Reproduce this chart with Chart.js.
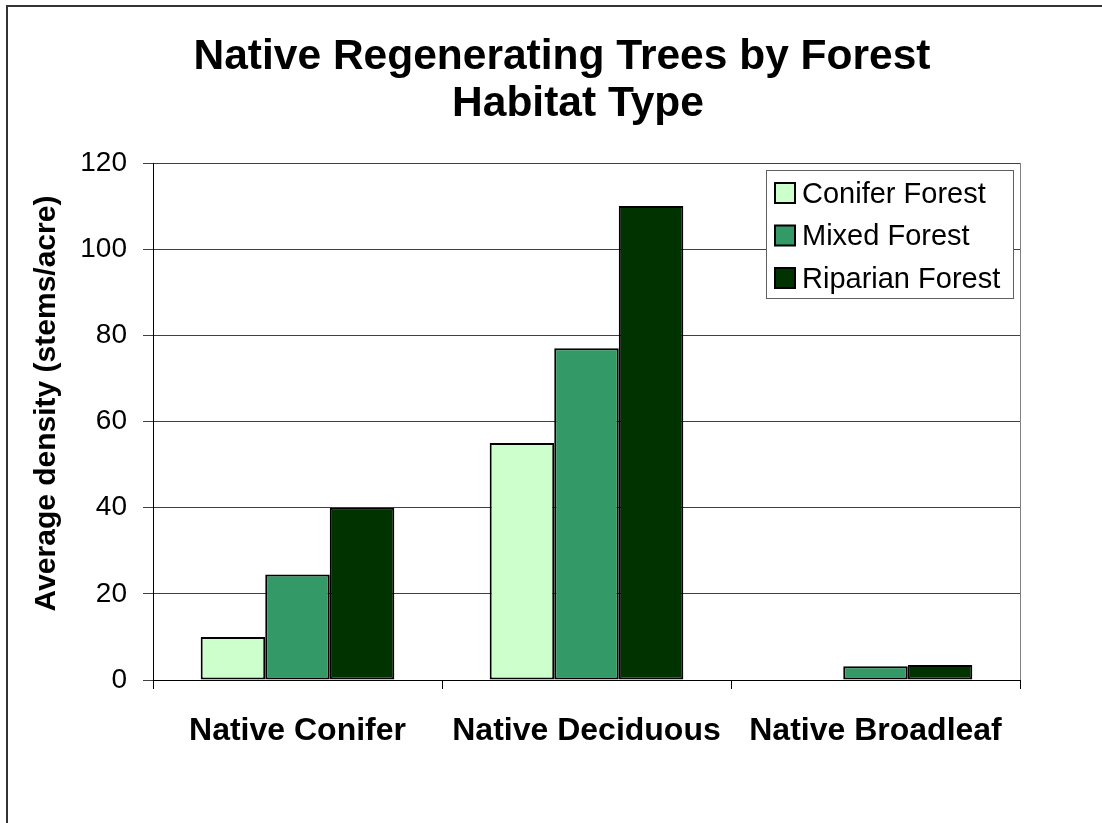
<!DOCTYPE html>
<html>
<head>
<meta charset="utf-8">
<script src="https://cdn.jsdelivr.net/npm/chart.js@4.4.1/dist/chart.umd.min.js"></script>
<style>
  html, body { margin: 0; padding: 0; background: #ffffff; }
  canvas { display: block; }
</style>
</head>
<body>
<canvas id="chart" width="1102" height="823"></canvas>
<script>
// Stem densities per regeneration group and forest habitat type
const categories = ['Native Conifer', 'Native Deciduous', 'Native Broadleaf'];
const seriesNames = ['Conifer Forest', 'Mixed Forest', 'Riparian Forest'];
const coniferForest = [10, 55, 0];
const mixedForest = [24.5, 77, 3.2];
const riparianForest = [40, 110, 3.5];
const seriesColors = ['#CCFFCC', '#339966', '#003300'];
const titleLines = ['Native Regenerating Trees by Forest', 'Habitat Type'];
const yAxisTitle = 'Average density (stems/acre)';
const yMin = 0, yMax = 120, yStep = 20;

const FONT = '"Liberation Sans", Arial, Helvetica, sans-serif';

// Outer frame, title, plot frame, rotated axis title and boxed legend
const decorations = {
  id: 'decorations',
  beforeDraw(chart) {
    const ctx = chart.ctx;
    ctx.save();
    ctx.fillStyle = '#ffffff';
    ctx.fillRect(0, 0, chart.width, chart.height);
    ctx.strokeStyle = '#333333';
    ctx.lineWidth = 2;
    ctx.strokeRect(7, 6, chart.width + 20, chart.height + 20);
    ctx.restore();
  },
  afterDraw(chart) {
    const ctx = chart.ctx;
    const a = chart.chartArea;
    ctx.save();

    // chart title, two lines
    ctx.font = 'bold 42.5px ' + FONT;
    ctx.fillStyle = '#000000';
    ctx.textAlign = 'center';
    ctx.textBaseline = 'middle';
    ctx.fillText(titleLines[0], 562, 57);
    ctx.fillText(titleLines[1], 578, 104.5);

    // right edge of the plot area
    ctx.strokeStyle = '#808080';
    ctx.lineWidth = 1;
    ctx.beginPath();
    ctx.moveTo(Math.round(a.right) + 0.5, a.top);
    ctx.lineTo(Math.round(a.right) + 0.5, a.bottom);
    ctx.stroke();

    // y axis title
    ctx.save();
    ctx.translate(47, (a.top + a.bottom) / 2 - 18);
    ctx.rotate(-Math.PI / 2);
    ctx.font = 'bold 30px ' + FONT;
    ctx.fillStyle = '#000000';
    ctx.textAlign = 'center';
    ctx.textBaseline = 'middle';
    ctx.fillText(yAxisTitle, 0, 0);
    ctx.restore();

    // legend box
    const lx = 766, ly = 170, lw = 247, lh = 128;
    ctx.fillStyle = '#ffffff';
    ctx.fillRect(lx, ly, lw, lh);
    ctx.strokeStyle = '#606060';
    ctx.lineWidth = 1;
    ctx.strokeRect(lx + 0.5, ly + 0.5, lw, lh);
    ctx.font = '29px ' + FONT;
    ctx.textAlign = 'left';
    ctx.textBaseline = 'middle';
    chart.data.datasets.forEach((ds, i) => {
      const cy = 193 + i * 42.5;
      ctx.fillStyle = ds.backgroundColor;
      ctx.fillRect(775, cy - 10, 20, 20);
      ctx.strokeStyle = '#000000';
      ctx.lineWidth = 2;
      ctx.strokeRect(775, cy - 10, 20, 20);
      ctx.fillStyle = '#000000';
      ctx.fillText(ds.label, 802, cy + 1.5);
    });
    ctx.restore();
  }
};

const seriesValues = [coniferForest, mixedForest, riparianForest];

new Chart(document.getElementById('chart'), {
  type: 'bar',
  data: {
    labels: categories,
    datasets: seriesNames.map((name, i) => ({
      label: name,
      data: seriesValues[i],
      backgroundColor: seriesColors[i],
      borderColor: '#000000',
      borderWidth: 2,
      borderSkipped: false,
      categoryPercentage: 0.67,
      barPercentage: 1.0
    }))
  },
  options: {
    responsive: false,
    animation: false,
    devicePixelRatio: 1,
    layout: { padding: { top: 163, left: 0, right: 82, bottom: 0 } },
    plugins: {
      legend: { display: false },
      tooltip: { enabled: false },
      title: { display: false }
    },
    scales: {
      x: {
        grid: {
          display: true,
          offset: true,
          drawOnChartArea: false,
          drawTicks: true,
          tickLength: 9,
          color: '#000000'
        },
        border: { display: true, color: '#000000', width: 1 },
        ticks: {
          color: '#000000',
          font: { family: FONT, size: 32, weight: 'bold' },
          padding: 23,
          maxRotation: 0,
          autoSkip: false
        },
        afterFit(scale) { scale.height = 143; }
      },
      y: {
        min: yMin,
        max: yMax,
        grid: { color: '#404040', lineWidth: 1, tickLength: 10 },
        border: { display: true, color: '#000000', width: 1 },
        ticks: {
          stepSize: yStep,
          color: '#000000',
          font: { family: FONT, size: 28 },
          padding: 16
        },
        afterFit(scale) { scale.width = 153; }
      }
    }
  },
  plugins: [decorations]
});
</script>
</body>
</html>
